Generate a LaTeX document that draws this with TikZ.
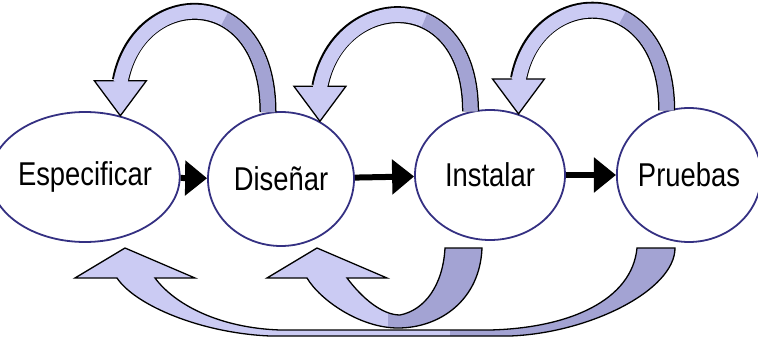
\documentclass[tikz,border=0pt]{standalone}
\usepackage{fontspec}
\setmainfont{Liberation Sans}
\usepackage{graphicx}
\usetikzlibrary{shapes.geometric, arrows.meta, calc}
\definecolor{navy}{RGB}{52,48,130}
\definecolor{lite}{RGB}{203,203,243}
\definecolor{dark}{RGB}{163,163,211}
\newcommand{\nar}[1]{\scalebox{0.83}[1]{#1}}

\begin{document}
\begin{tikzpicture}[x=1pt, y=-1pt, oval/.style = {draw=navy, line width=1.8pt, ellipse, fill=white, inner sep=0pt, font=\fontsize{33}{33}\selectfont}, flow/.style = {line width=6pt, -{Triangle[length=22pt,width=34pt]}}, edge/.style = {line width=17pt, black}, core/.style = {line width=14pt, lite}, head/.style = {draw=black, line width=1.3pt, fill=lite, line join=miter}, ribbon/.style = {draw=black, line width=1.3pt, fill=lite}]
                \useasboundingbox[fill=white] (0,0) rectangle (758,337);
                \node[oval, minimum width=156pt, minimum height=130pt] (esp) at (85,177) {\nar{Especificar}};
                \node[oval, minimum width=146pt, minimum height=134pt] (dis) at (281,179) {\nar{Diseñar}};
                \node[oval, minimum width=150pt, minimum height=130pt] (ins) at (490,175) {\nar{Instalar}};
                \node[oval, minimum width=140pt, minimum height=134pt] (pru) at (689,175) {\nar{Pruebas}};
                % flechas hacia adelante
                \draw[flow] (esp) -- (dis);
                \draw[flow] (dis) -- (ins);
                \draw[flow] (ins) -- (pru);
                % vueltas de arriba
                \coordinate (l1) at (dis.101); \coordinate (t1) at (esp.60); \coordinate (h1) at ($(t1)+(0,-35)$);
                \coordinate (l2) at (ins.107); \coordinate (t2) at (dis.56); \coordinate (h2) at ($(t2)+(0,-35)$);
                \coordinate (l3) at (pru.109); \coordinate (t3) at (ins.65); \coordinate (h3) at ($(t3)+(0,-35)$);
                \draw[edge] (l1) .. controls +(0,-130) and +(18,-96) .. (h1);
                \draw[head] ($(h1)+(-26,0)$) -- (t1) -- ($(h1)+(26,0)$) -- cycle;
                \draw[core] (l1) .. controls +(0,-130) and +(18,-98) .. ($(h1)+(0,2)$);
                \draw[core, dark, dash pattern=on 108pt off 600pt] (l1) .. controls +(0,-130) and +(18,-96) .. (h1);
                \draw[edge] (l2) .. controls +(0,-128) and +(18,-96) .. (h2);
                \draw[head] ($(h2)+(-26,0)$) -- (t2) -- ($(h2)+(26,0)$) -- cycle;
                \draw[core] (l2) .. controls +(0,-128) and +(18,-98) .. ($(h2)+(0,2)$);
                \draw[core, dark, dash pattern=on 108pt off 600pt] (l2) .. controls +(0,-128) and +(18,-96) .. (h2);
                \draw[edge] (l3) .. controls +(0,-128) and +(18,-96) .. (h3);
                \draw[head] ($(h3)+(-26,0)$) -- (t3) -- ($(h3)+(26,0)$) -- cycle;
                \draw[core] (l3) .. controls +(0,-128) and +(18,-98) .. ($(h3)+(0,2)$);
                \draw[core, dark, dash pattern=on 108pt off 600pt] (l3) .. controls +(0,-128) and +(18,-96) .. (h3);
                % vueltas de abajo
                \draw[ribbon, path picture={\fill[dark] (450,200) rectangle (760,340);}] (675,248) .. controls (675,290) and (590,333) .. (510,336) -- (270,336) .. controls (200,333) and (135,305) .. (117,278) -- (75,278) -- (125,248) -- (195,278) -- (155,278) .. controls (175,305) and (220,328) .. (280,330) -- (490,330) .. controls (570,328) and (632,300) .. (637,248) -- cycle;
                \draw[ribbon, path picture={\fill[dark] (388,200) rectangle (500,340);}] (482,248) .. controls (480,300) and (440,328) .. (398,328) .. controls (360,328) and (320,300) .. (307,278) -- (267,278) -- (317,248) -- (387,278) -- (347,278) .. controls (362,298) and (382,315) .. (400,315) .. controls (425,310) and (443,285) .. (445,248) -- cycle;
            \end{tikzpicture}
\end{document}
